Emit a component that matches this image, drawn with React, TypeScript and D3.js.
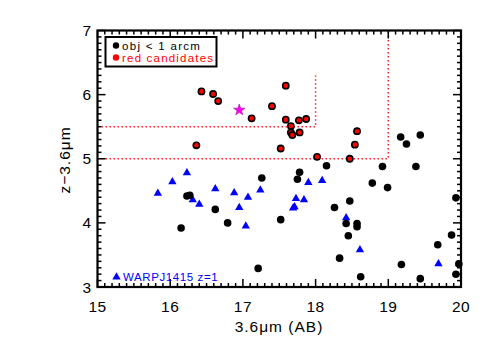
import React, { useEffect, useRef } from 'react';
import * as d3 from 'd3';

// objects within 1 arcmin (black)
const blackX = [16.23, 16.27, 16.62, 16.15, 16.79, 17.26, 17.21, 17.52, 17.78, 17.75, 18.15, 18.26, 18.47, 18.42, 18.57, 18.57, 18.45, 18.33, 18.62, 18.78, 18.99, 18.92, 19.38, 19.17, 19.25, 19.44, 19.18, 19.44, 19.68, 19.87, 19.93, 19.93, 19.97];
const blackY = [4.42, 4.43, 4.21, 3.92, 4.00, 4.70, 3.29, 4.05, 4.79, 4.68, 4.89, 4.24, 4.34, 3.99, 3.99, 3.94, 3.80, 3.45, 3.16, 4.62, 4.55, 4.88, 4.88, 5.34, 5.23, 5.37, 3.35, 3.13, 3.66, 3.81, 4.39, 3.20, 3.36];

// red candidates
const redX = [16.43, 16.59, 16.66, 17.12, 17.40, 17.59, 17.59, 16.36, 17.52, 17.66, 17.66, 17.68, 17.77, 17.87, 17.78, 18.02, 18.47, 18.54, 18.57];
const redY = [6.05, 6.01, 5.90, 5.63, 5.82, 6.14, 5.61, 5.21, 5.16, 5.51, 5.41, 5.37, 5.60, 5.62, 5.41, 5.03, 5.00, 5.22, 5.43];

// WARPJ1415 z=1 cluster members
const blueX = [15.83, 16.03, 16.23, 16.31, 16.40, 16.62, 16.88, 16.95, 17.07, 17.04, 17.24, 17.90, 18.09, 17.73, 17.84, 17.69, 17.71, 18.42, 18.61, 19.69];
const blueY = [4.46, 4.64, 4.78, 4.36, 4.29, 4.53, 4.47, 4.24, 4.40, 3.95, 4.51, 4.63, 4.66, 4.38, 4.36, 4.23, 4.25, 4.08, 3.58, 3.36];

const starPt = [16.95, 5.76];

const xTicks = [15, 16, 17, 18, 19, 20];
const yTicks = [3, 4, 5, 6, 7];

// selection cuts
const cutLines = [
  [[15, 5.5], [18, 5.5], [18, 6.3]],
  [[15, 5.0], [19, 5.0], [19, 7]],
];

const App = () => {
  const svgRef = useRef(null);

  useEffect(() => {
    const W = 491, H = 350;
    const L = 97.5, R = 461, T = 30.5, B = 287;
    const svg = d3.select(svgRef.current).attr('width', W).attr('height', H);
    svg.selectAll('*').remove();
    svg.append('rect').attr('width', W).attr('height', H).attr('fill', 'white');

    const x = d3.scaleLinear().domain([15, 20]).range([L, R]);
    const y = d3.scaleLinear().domain([3, 7]).range([B, T]);
    const font = 'Liberation Sans, Arial, sans-serif';

    // dotted cut lines
    const line = d3.line().x(d => x(d[0])).y(d => y(d[1]));
    cutLines.forEach(c => {
      svg.append('path').attr('d', line(c)).attr('fill', 'none')
        .attr('stroke', '#ff2020').attr('stroke-width', 1.5).attr('stroke-dasharray', '1.5,2.5');
    });

    // blue triangles
    const tri = d3.symbol().type(d3.symbolTriangle).size(30);
    svg.append('g').selectAll('path').data(blueX).enter().append('path')
      .attr('d', tri).attr('transform', (d, i) => `translate(${x(d)},${y(blueY[i])})`)
      .attr('fill', '#0000ff');

    // black points
    svg.append('g').selectAll('circle').data(blackX).enter().append('circle')
      .attr('cx', d => x(d)).attr('cy', (d, i) => y(blackY[i])).attr('r', 3.8).attr('fill', 'black');

    // red candidates
    const rg = svg.append('g');
    redX.forEach((d, i) => {
      rg.append('circle').attr('cx', x(d)).attr('cy', y(redY[i])).attr('r', 3.9).attr('fill', 'black');
      rg.append('circle').attr('cx', x(d)).attr('cy', y(redY[i])).attr('r', 2.3).attr('fill', 'red');
    });

    // magenta star
    svg.append('path').attr('d', d3.symbol().type(d3.symbolStar).size(40)())
      .attr('transform', `translate(${x(starPt[0])},${y(starPt[1])})`)
      .attr('fill', '#ff00ff').attr('stroke', '#b000b0').attr('stroke-width', 0.6);

    // ticks on all sides, inward
    const ax = svg.append('g').attr('stroke', 'black');
    d3.range(150, 201).forEach(k => {
      const v = k / 10;
      const len = k % 10 === 0 ? 8 : 4;
      ax.append('line').attr('x1', x(v)).attr('x2', x(v)).attr('y1', B).attr('y2', B - len).attr('stroke-width', 1.5);
      ax.append('line').attr('x1', x(v)).attr('x2', x(v)).attr('y1', T).attr('y2', T + len).attr('stroke-width', 1.5);
    });
    d3.range(30, 71).forEach(k => {
      const v = k / 10;
      const len = k % 10 === 0 ? 8 : 4;
      ax.append('line').attr('y1', y(v)).attr('y2', y(v)).attr('x1', L).attr('x2', L + len).attr('stroke-width', 1.5);
      ax.append('line').attr('y1', y(v)).attr('y2', y(v)).attr('x1', R).attr('x2', R - len).attr('stroke-width', 1.5);
    });
    svg.append('rect').attr('x', L).attr('y', T).attr('width', R - L).attr('height', B - T)
      .attr('fill', 'none').attr('stroke', 'black').attr('stroke-width', 2.2);

    // tick labels
    svg.append('g').selectAll('text').data(xTicks).enter().append('text')
      .attr('x', d => x(d)).attr('y', 312).attr('text-anchor', 'middle')
      .attr('font-family', font).attr('font-size', 15.5).attr('letter-spacing', 0.5).text(d => d);
    svg.append('g').selectAll('text').data(yTicks).enter().append('text')
      .attr('x', 91).attr('y', d => y(d) + 5.5).attr('text-anchor', 'end')
      .attr('font-family', font).attr('font-size', 15.5).text(d => d);

    // axis titles
    svg.append('text').attr('x', 279).attr('y', 332).attr('text-anchor', 'middle')
      .attr('font-family', font).attr('font-size', 15.5).attr('letter-spacing', 1).text('3.6μm (AB)');
    svg.append('text').attr('transform', 'translate(70,160) rotate(-90)').attr('text-anchor', 'middle')
      .attr('font-family', font).attr('font-size', 15.5).attr('letter-spacing', 1).text('z−3.6μm');

    // legend box
    const lg = svg.append('g');
    lg.append('rect').attr('x', 105.5).attr('y', 37).attr('width', 111).attr('height', 29.5)
      .attr('fill', 'white').attr('stroke', 'black').attr('stroke-width', 2);
    lg.append('circle').attr('cx', 116).attr('cy', 45.5).attr('r', 3.2).attr('fill', 'black');
    lg.append('text').attr('x', 122).attr('y', 49.5).attr('font-family', font).attr('font-size', 11.5)
      .attr('letter-spacing', 1.3).attr('fill', 'black').text('obj < 1 arcm');
    lg.append('circle').attr('cx', 116).attr('cy', 57.5).attr('r', 3.2).attr('fill', 'red');
    lg.append('text').attr('x', 122).attr('y', 61.5).attr('font-family', font).attr('font-size', 11.5)
      .attr('letter-spacing', 1.2).attr('fill', 'red').text('red candidates');

    // cluster legend
    svg.append('path').attr('d', tri).attr('transform', 'translate(116.5,277)').attr('fill', '#0000ff');
    svg.append('text').attr('x', 123).attr('y', 281).attr('font-family', font).attr('font-size', 11.5)
      .attr('letter-spacing', 0.6).attr('fill', '#0000ff').text('WARPJ1415  z=1');
  }, []);

  return <svg ref={svgRef} style={{ position: 'absolute', left: 0, top: 0 }}></svg>;
};

export default App;
